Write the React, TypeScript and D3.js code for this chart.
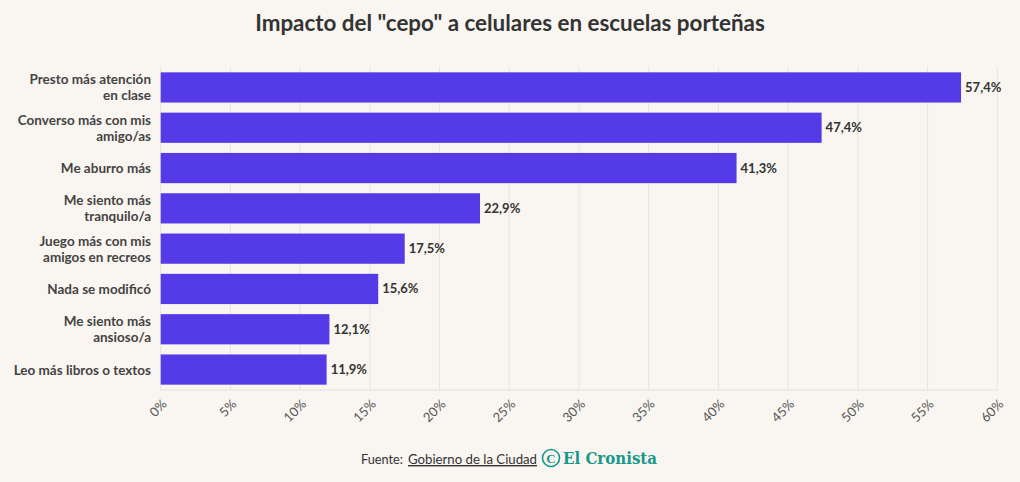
import React from "react";
import * as d3 from "d3";

const categories = [
  ["Presto más atención", "en clase"],
  ["Converso más con mis", "amigo/as"],
  ["Me aburro más"],
  ["Me siento más", "tranquilo/a"],
  ["Juego más con mis", "amigos en recreos"],
  ["Nada se modificó"],
  ["Me siento más", "ansioso/a"],
  ["Leo más libros o textos"],
];
const values = [57.4, 47.4, 41.3, 22.9, 17.5, 15.6, 12.1, 11.9];
const ticks = [0, 5, 10, 15, 20, 25, 30, 35, 40, 45, 50, 55, 60];

const W = 1020;
const H = 482;
const FONT = "Lato, 'Open Sans', sans-serif";

export default function App() {
  const x = d3.scaleLinear().domain([0, 60]).range([160.7, 997.3]);
  const y = d3
    .scaleBand<number>()
    .domain(d3.range(values.length))
    .range([67.3, 389.7])
    .paddingInner(0.25)
    .paddingOuter(0.125);
  const fmt = (v: number) => v.toFixed(1).replace(".", ",") + "%";
  return (
    <svg width={W} height={H} style={{ display: "block", position: "absolute", left: 0, top: 0, background: "#f9f5f0" }}>
      <rect x={0} y={0} width={W} height={H} fill="#f9f5f0" />
      <text x={510} y={31} textAnchor="middle" fontFamily={FONT} fontWeight={700} fontSize={22.4} fill="#333">
        Impacto del "cepo" a celulares en escuelas porteñas
      </text>
      {ticks.map((t) => (
        <line key={"g" + t} x1={x(t)} x2={x(t)} y1={67} y2={390} stroke="#e8e4df" strokeWidth={1} />
      ))}
      <line x1={x(0)} x2={x(60)} y1={390} y2={390} stroke="#e3dfda" strokeWidth={1} />
      {values.map((v, i) => (
        <g key={i}>
          <rect x={x(0)} y={y(i)} width={x(v) - x(0)} height={y.bandwidth()} fill="#553be8" />
          <text x={x(v) + 4} y={y(i)! + y.bandwidth() / 2 + 4.5} fontFamily={FONT} fontWeight={700} fontSize={13} fill="#333">
            {fmt(v)}
          </text>
          <text textAnchor="end" fontFamily={FONT} fontWeight={700} fontSize={13.5} fill="#444">
            {categories[i].map((line, j) => (
              <tspan key={j} x={151} y={y(i)! + y.bandwidth() / 2 + 5 + (j - (categories[i].length - 1) / 2) * 16}>
                {line}
              </tspan>
            ))}
          </text>
        </g>
      ))}
      {ticks.map((t) => (
        <text
          key={"t" + t}
          transform={`translate(${x(t) + 7},${405}) rotate(-45)`}
          textAnchor="end"
          fontFamily={FONT}
          fontSize={13}
          fill="#555"
        >
          {t + "%"}
        </text>
      ))}
      <text x={361} y={464} fontFamily={FONT} fontSize={14} fill="#333" textLength={42} lengthAdjust="spacingAndGlyphs">
        Fuente:
      </text>
      <text x={408} y={464} fontFamily={FONT} fontSize={14} fill="#333" textDecoration="underline" textLength={129} lengthAdjust="spacingAndGlyphs">
        Gobierno de la Ciudad
      </text>
      <circle cx={551} cy={458} r={8.5} fill="none" stroke="#17988a" strokeWidth={1.6} />
      <text x={551} y={463} textAnchor="middle" fontFamily="'Liberation Serif', serif" fontWeight={700} fontSize={13} fill="#17988a">
        C
      </text>
      <text x={563} y={464} fontFamily="'DejaVu Serif', 'Liberation Serif', serif" fontWeight={700} fontSize={17} fill="#17988a" textLength={94} lengthAdjust="spacingAndGlyphs">
        El Cronista
      </text>
    </svg>
  );
}
